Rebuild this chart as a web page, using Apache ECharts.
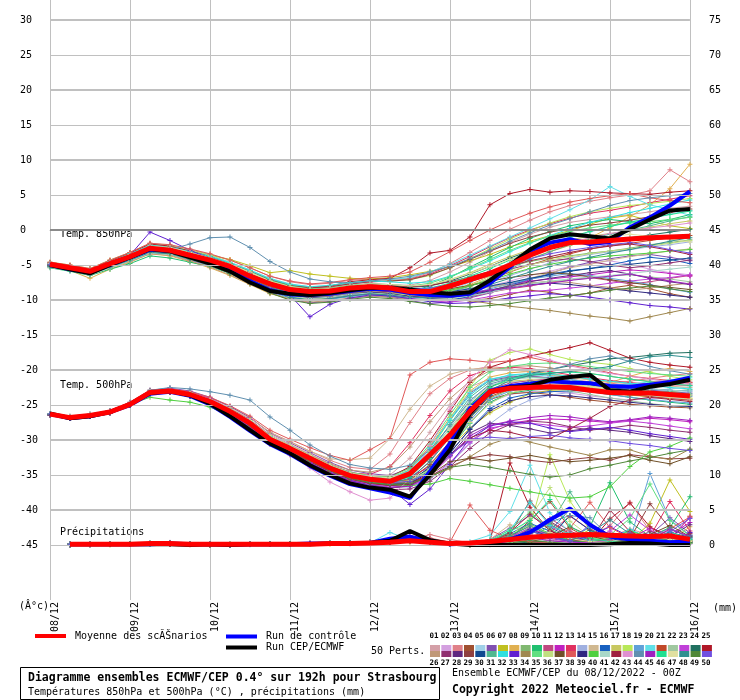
<!DOCTYPE html>
<html><head><meta charset="utf-8">
<script src="https://cdn.jsdelivr.net/npm/echarts@6/dist/echarts.min.js"></script>
<style>html,body{margin:0;padding:0;background:#fff}#c{width:740px;height:700px}</style>
</head><body><div id="c"></div>
<script>
// ---- time axis (hours from 08/12 00Z) and tick labels ----
const hours = [0,6,12,18,24,30,36,42,48,54,60,66,72,78,84,90,96,102,108,114,120,126,132,138,144,150,156,162,168,174,180,186,192];
const precipHours = hours.slice(1);
const dayLabels = ['08/12','09/12','10/12','11/12','12/12','13/12','14/12','15/12','16/12'];
const leftTicks = [-45,-40,-35,-30,-25,-20,-15,-10,-5,0,5,10,15,20,25,30];
const rightTicks = [0,5,10,15,20,25,30,35,40,45,50,55,60,65,70,75];
const gridValues = [30,25,20,15,10,5,0,-5,-10,-15,-20,-25,-30,-35,-40,-45];

// ---- mean / control / main run ----
const meanT850 = [-4.9,-5.4,-5.9,-4.8,-3.8,-2.6,-2.9,-3.6,-4.3,-5.2,-6.6,-7.7,-8.5,-8.8,-8.7,-8.3,-8.1,-8.3,-8.8,-8.8,-8.0,-7.1,-6.2,-5.0,-3.6,-2.5,-1.8,-1.7,-1.5,-1.3,-1.1,-1.0,-0.9];
const ctrlT850 = [-5.0,-5.6,-6.1,-5.0,-3.9,-2.8,-3.0,-3.8,-4.7,-5.8,-7.3,-8.6,-9.2,-9.3,-9.1,-8.7,-8.4,-8.5,-9.0,-9.3,-9.4,-9.1,-7.6,-5.3,-3.0,-1.8,-1.3,-2.0,-1.7,0.4,1.8,3.5,5.5];
const mainT850 = [-5.0,-5.6,-6.2,-5.0,-3.9,-2.7,-3.0,-3.9,-4.8,-5.9,-7.5,-8.7,-9.1,-9.3,-9.0,-8.6,-8.3,-8.3,-8.5,-8.9,-9.1,-8.9,-7.2,-5.0,-2.8,-1.2,-0.6,-0.9,-1.2,0.1,1.5,2.8,3.0];
const meanT500 = [-26.3,-26.8,-26.5,-26.0,-24.9,-23.2,-23.0,-23.5,-24.5,-25.9,-27.6,-29.9,-31.2,-32.6,-34.0,-35.1,-35.6,-35.9,-34.8,-32.1,-29.3,-25.9,-23.1,-22.6,-22.5,-22.4,-22.5,-22.9,-23.2,-23.3,-23.3,-23.5,-23.7];
const ctrlT500 = [-26.3,-26.9,-26.6,-26.0,-25.0,-23.4,-23.1,-23.7,-24.9,-26.7,-28.7,-30.6,-32.0,-33.7,-35.1,-36.3,-36.9,-37.5,-38.3,-34.5,-30.5,-25.5,-23.0,-22.3,-22.0,-21.6,-21.8,-21.9,-22.3,-22.4,-22.1,-21.7,-21.1];
const mainT500 = [-26.2,-26.9,-26.6,-26.0,-24.9,-23.3,-23.0,-23.6,-24.8,-26.6,-28.6,-30.5,-31.9,-33.6,-35.0,-36.2,-36.8,-37.1,-38.1,-35.0,-31.4,-26.2,-23.1,-22.5,-22.3,-21.4,-21.0,-20.7,-22.9,-23.1,-22.4,-22.0,-21.4];
const meanPrecip = [0.1,0.1,0.1,0.1,0.2,0.2,0.1,0.1,0.1,0.1,0.1,0.1,0.1,0.2,0.2,0.3,0.4,0.6,0.4,0.2,0.3,0.5,0.8,1.1,1.3,1.4,1.5,1.4,1.3,1.2,1.3,0.8];
const ctrlPrecip = [0.1,0.1,0.1,0.1,0.1,0.2,0.1,0.1,0.0,0.1,0.1,0.1,0.2,0.2,0.2,0.3,0.9,1.2,0.5,0.1,0.2,0.3,0.8,1.8,3.6,5.2,2.9,1.2,0.8,0.6,0.4,0.5];
const mainPrecip = [0.1,0.1,0.1,0.1,0.1,0.1,0.0,0.1,0.0,0.1,0.1,0.1,0.1,0.2,0.2,0.3,0.6,2.0,0.7,0.2,0.0,0.0,0.0,0.0,0.0,0.0,0.0,0.1,0.3,0.2,0.0,0.0];

// ---- 50 perturbed members ----
const pertT850 = [
[-4.8,-5.3,-5.8,-4.6,-3.5,-2.3,-2.6,-3.3,-4.0,-4.9,-6.0,-7.2,-8.0,-8.4,-8.2,-7.9,-7.6,-7.8,-7.9,-7.2,-6.0,-4.6,-3.1,-1.8,-0.6,0.4,1.1,1.5,1.9,2.2,2.6,3.1,3.4],
[-5.0,-5.5,-6.1,-5.0,-4.0,-2.9,-3.1,-3.9,-4.7,-5.8,-7.0,-8.4,-9.3,-9.8,-9.6,-9.2,-8.9,-9.1,-9.4,-9.5,-9.1,-8.6,-8.0,-7.3,-6.5,-5.9,-5.2,-4.8,-4.4,-4.9,-5.6,-6.1,-6.4],
[-4.6,-5.1,-5.6,-4.4,-3.2,-1.9,-2.2,-2.8,-3.5,-4.3,-5.4,-6.6,-7.4,-7.8,-7.6,-7.2,-7.0,-7.1,-6.9,-6.1,-4.8,-3.2,-1.5,0.1,1.4,2.6,3.5,4.1,4.6,5.0,5.6,8.6,6.9],
[-5.1,-5.6,-6.2,-5.2,-4.2,-3.1,-3.3,-4.0,-4.9,-6.0,-7.3,-8.6,-9.4,-9.7,-9.5,-9.0,-8.7,-8.8,-9.2,-9.6,-9.9,-10.1,-9.8,-9.2,-8.6,-8.9,-9.4,-9.0,-8.3,-7.9,-8.4,-9.1,-9.6],
[-4.9,-5.4,-5.8,-4.7,-3.7,-2.5,-2.7,-3.5,-4.3,-5.3,-6.6,-8.0,-8.9,-9.3,-9.1,-8.6,-8.2,-8.4,-8.9,-9.2,-8.6,-7.5,-6.1,-4.6,-3.2,-2.0,-1.1,-0.3,0.5,1.2,1.6,2.3,2.8],
[-5.2,-5.7,-6.3,-5.3,-4.4,-3.3,-3.5,-4.3,-5.1,-6.1,-7.5,-8.9,-9.9,-10.4,-10.2,-9.8,-9.4,-9.6,-10.1,-10.5,-10.3,-9.7,-9.0,-8.1,-7.1,-6.2,-5.3,-4.6,-4.1,-3.7,-3.5,-3.9,-4.4],
[-4.7,-5.2,-5.6,-4.5,-3.4,-2.2,-2.4,-3.0,-3.6,-4.2,-5.1,-6.1,-5.8,-6.3,-6.6,-6.9,-7.0,-6.8,-6.4,-5.9,-5.3,-4.4,-3.5,-2.4,-1.6,-0.8,-0.1,0.8,1.7,2.1,1.3,0.6,0.2],
[-5.3,-5.8,-6.9,-5.6,-4.6,-3.4,-3.7,-4.5,-5.4,-6.5,-7.8,-9.1,-9.8,-10.0,-9.7,-9.3,-9.1,-9.4,-9.6,-9.3,-8.7,-7.8,-6.6,-5.3,-4.1,-3.1,-2.2,-1.1,0.3,1.9,3.6,5.9,9.4],
[-4.8,-5.3,-5.9,-4.9,-3.9,-2.8,-3.0,-3.7,-4.4,-5.4,-6.7,-7.9,-8.6,-8.9,-8.8,-8.5,-8.2,-8.3,-8.5,-8.4,-7.8,-6.9,-6.0,-5.2,-4.5,-4.0,-3.7,-3.3,-3.0,-2.6,-2.1,-1.8,-1.4],
[-5.4,-5.9,-6.5,-5.6,-4.8,-3.7,-4.0,-4.6,-5.2,-6.2,-7.4,-8.7,-9.5,-9.9,-9.8,-9.5,-9.0,-9.0,-8.8,-8.0,-6.8,-5.3,-3.9,-2.5,-1.2,-0.2,0.6,1.1,1.5,1.2,0.9,1.5,2.2],
[-4.9,-5.5,-6.0,-5.0,-4.1,-3.0,-3.2,-4.0,-4.8,-5.9,-7.1,-8.3,-9.1,-9.5,-9.4,-9.0,-8.8,-9.0,-9.4,-9.8,-10.0,-9.6,-8.9,-8.4,-8.0,-7.5,-7.1,-6.8,-7.2,-7.7,-7.4,-6.9,-6.5],
[-5.0,-5.4,-5.9,-4.8,-3.8,-2.6,-2.8,-3.5,-4.2,-5.1,-6.3,-7.6,-8.4,-8.8,-8.9,-8.7,-8.5,-8.7,-9.0,-9.1,-8.9,-8.5,-8.1,-7.7,-7.3,-7.0,-6.7,-6.4,-6.0,-5.7,-5.9,-6.2,-6.6],
[-4.7,-5.2,-5.7,-4.6,-3.6,-2.4,-2.6,-3.2,-3.9,-4.8,-5.9,-7.1,-7.9,-8.3,-8.1,-7.7,-7.4,-7.3,-7.0,-6.3,-5.1,-3.8,-2.4,-1.1,0.0,0.9,1.7,2.4,2.8,3.3,3.9,4.4,4.9],
[-5.1,-5.6,-6.1,-5.1,-4.1,-3.0,-3.2,-3.9,-4.7,-5.7,-7.0,-8.3,-9.2,-9.6,-9.4,-9.0,-8.7,-8.9,-9.2,-9.4,-9.1,-8.4,-7.5,-6.5,-5.6,-4.7,-4.0,-3.5,-3.1,-2.8,-2.4,-2.1,-1.7],
[-4.8,-5.3,-5.7,-4.6,-3.6,-2.5,-2.8,-3.5,-4.3,-5.3,-6.5,-7.8,-8.7,-9.0,-8.8,-8.5,-8.3,-8.5,-8.8,-9.0,-8.9,-8.6,-8.2,-7.6,-6.9,-6.1,-5.4,-4.9,-4.3,-3.8,-3.4,-3.0,-2.7],
[-5.0,-5.6,-6.2,-5.1,-4.1,-2.9,-3.2,-4.0,-4.9,-6.0,-7.3,-8.6,-9.5,-10.0,-9.8,-9.4,-9.2,-9.5,-9.9,-10.2,-10.0,-9.5,-8.7,-7.9,-7.0,-6.3,-5.8,-5.5,-5.0,-4.4,-3.9,-4.2,-4.8],
[-4.9,-5.3,-5.8,-4.7,-3.7,-2.5,-2.7,-3.4,-4.1,-5.0,-6.2,-7.4,-8.2,-8.6,-8.5,-8.1,-7.8,-7.9,-8.1,-7.9,-7.1,-6.1,-4.9,-3.8,-2.8,-2.0,-1.4,-0.9,-0.5,-0.1,0.4,0.9,1.3],
[-4.6,-5.0,-5.5,-4.3,-3.2,-2.0,-2.2,-2.9,-3.6,-4.6,-5.8,-7.0,-7.8,-8.2,-8.0,-7.6,-7.3,-7.3,-7.1,-6.5,-5.4,-4.1,-2.7,-1.3,-0.1,1.0,1.9,2.6,3.1,3.5,3.8,4.1,4.5],
[-5.2,-5.7,-6.3,-5.3,-4.3,-3.2,-3.4,-4.2,-5.0,-6.1,-7.4,-8.8,-9.7,-10.1,-9.9,-9.5,-9.2,-9.4,-9.7,-9.9,-9.6,-9.1,-8.4,-7.7,-7.0,-6.6,-6.2,-6.5,-6.9,-7.3,-7.8,-8.4,-8.9],
[-4.8,-5.2,-5.7,-4.5,-3.4,-2.1,-2.3,-3.0,-3.7,-4.6,-5.7,-6.9,-7.7,-8.1,-8.0,-7.6,-7.2,-7.1,-6.8,-6.0,-4.9,-3.6,-2.3,-1.0,0.3,1.6,2.9,4.3,6.2,4.8,3.6,2.9,2.1],
[-5.0,-5.5,-6.0,-5.0,-4.0,-2.8,-3.1,-3.8,-4.6,-5.6,-6.9,-8.2,-9.1,-9.5,-9.3,-8.9,-8.6,-8.8,-9.1,-9.2,-8.8,-8.0,-7.1,-6.0,-5.0,-4.1,-3.4,-2.7,-2.2,-1.9,-1.5,-1.1,-0.8],
[-4.9,-5.4,-5.9,-4.8,-3.8,-2.6,-2.9,-3.6,-4.4,-5.4,-6.6,-7.9,-8.8,-9.2,-9.1,-8.7,-8.4,-8.5,-8.7,-8.8,-8.6,-8.3,-8.1,-7.9,-7.6,-7.4,-7.1,-6.9,-6.6,-6.4,-6.7,-7.0,-7.4],
[-5.1,-5.6,-6.1,-5.0,-3.9,-2.7,-3.0,-3.8,-4.7,-5.8,-7.1,-8.5,-9.4,-9.8,-9.7,-9.3,-9.1,-9.3,-9.7,-10.1,-10.3,-10.0,-9.5,-9.0,-8.8,-8.6,-8.3,-8.0,-7.6,-7.3,-7.0,-6.8,-6.4],
[-5.0,-5.5,-6.0,-4.9,-3.9,-2.7,-2.9,-3.6,-4.3,-5.2,-6.4,-7.6,-8.4,-8.8,-8.6,-8.2,-7.9,-8.0,-8.2,-8.0,-7.3,-6.3,-5.2,-4.0,-3.0,-2.4,-2.0,-1.7,-1.4,-1.1,-0.7,-0.3,0.1],
[-4.7,-5.1,-5.6,-4.4,-3.3,-2.0,-2.3,-3.0,-3.8,-4.8,-5.9,-7.1,-7.9,-8.3,-8.0,-7.4,-7.1,-6.9,-5.4,-3.3,-2.9,-1.0,3.6,5.2,5.8,5.4,5.6,5.5,5.3,5.2,5.1,5.4,5.6],
[-5.3,-5.8,-6.4,-5.4,-4.5,-3.4,-3.6,-4.4,-5.3,-6.4,-7.7,-9.0,-9.9,-10.3,-10.1,-9.7,-9.4,-9.6,-9.9,-10.0,-9.7,-9.2,-8.6,-8.0,-7.6,-7.3,-7.5,-7.9,-8.2,-8.6,-8.3,-7.9,-7.6],
[-4.9,-5.4,-5.9,-4.9,-3.9,-2.8,-3.0,-3.7,-4.5,-5.5,-6.8,-8.1,-9.0,-9.4,-9.3,-8.9,-8.6,-8.8,-9.0,-8.8,-8.2,-7.4,-6.5,-5.6,-4.9,-4.4,-4.1,-4.5,-5.0,-5.4,-5.1,-4.7,-4.3],
[-5.1,-5.7,-6.2,-5.2,-4.2,-3.1,-3.3,-4.1,-4.9,-6.0,-7.2,-8.5,-9.4,-9.8,-9.7,-9.3,-9.1,-9.2,-9.4,-9.6,-9.5,-9.1,-8.6,-8.0,-7.4,-6.9,-6.5,-6.1,-5.8,-6.3,-6.9,-7.4,-7.8],
[-4.8,-5.2,-5.7,-4.6,-3.5,-2.3,-2.5,-3.2,-3.9,-4.8,-5.9,-7.1,-7.9,-8.2,-8.1,-7.7,-7.4,-7.3,-7.1,-6.4,-5.4,-4.2,-3.0,-1.9,-1.0,-0.3,0.2,0.7,1.0,1.4,1.9,2.5,3.0],
[-5.0,-5.5,-6.0,-5.0,-4.0,-2.9,-3.1,-3.8,-4.6,-5.6,-6.8,-8.1,-9.0,-9.4,-9.2,-8.8,-8.5,-8.6,-8.9,-9.0,-8.8,-8.4,-8.0,-7.5,-6.9,-6.4,-5.9,-5.5,-5.2,-4.9,-4.6,-4.3,-4.0],
[-4.9,-5.4,-5.8,-4.7,-3.7,-2.5,-2.8,-3.5,-4.3,-5.3,-6.5,-7.8,-8.6,-9.0,-8.8,-8.4,-8.2,-8.4,-8.8,-9.1,-8.8,-8.0,-6.9,-5.6,-4.2,-3.1,-2.1,-1.3,-0.6,0.0,0.6,1.3,1.9],
[-4.7,-5.2,-5.7,-4.5,-3.4,-2.2,-2.5,-3.1,-3.8,-4.7,-5.8,-7.0,-7.8,-8.1,-7.9,-7.5,-7.3,-7.4,-7.6,-7.4,-6.6,-5.6,-4.4,-3.1,-1.9,-0.8,0.2,1.1,1.8,2.5,3.1,3.7,4.3],
[-5.1,-5.6,-6.2,-5.1,-3.6,-0.3,-1.5,-2.9,-4.1,-5.4,-6.8,-8.2,-9.3,-12.4,-10.6,-9.7,-9.3,-9.4,-9.8,-10.2,-10.5,-10.4,-10.1,-9.7,-9.4,-9.1,-9.3,-9.6,-10.0,-10.4,-10.8,-11.0,-11.3],
[-5.0,-5.5,-6.1,-5.1,-4.1,-3.0,-3.2,-3.9,-4.7,-5.8,-7.0,-8.3,-9.2,-9.6,-9.4,-9.0,-8.8,-9.0,-9.3,-9.6,-9.8,-10.1,-10.5,-10.9,-11.2,-11.5,-11.9,-12.3,-12.6,-13.0,-12.4,-11.8,-11.2],
[-4.8,-5.3,-5.8,-4.7,-3.6,-2.4,-2.6,-3.3,-4.0,-4.9,-6.0,-7.2,-8.0,-8.4,-8.3,-7.9,-7.7,-7.8,-8.0,-7.6,-6.7,-5.5,-4.2,-2.9,-1.8,-0.9,-0.2,0.3,0.7,1.0,1.2,1.5,1.8],
[-5.2,-5.7,-6.2,-5.2,-4.2,-3.1,-3.4,-4.1,-4.9,-6.0,-7.3,-8.6,-9.5,-9.9,-9.7,-9.3,-9.0,-9.1,-9.3,-9.2,-8.7,-7.9,-6.9,-5.9,-5.0,-4.3,-3.8,-3.4,-3.0,-2.7,-2.3,-1.9,-1.5],
[-4.9,-5.4,-5.9,-4.8,-3.8,-2.7,-2.9,-3.6,-4.4,-5.4,-6.6,-7.9,-8.7,-9.1,-9.0,-8.6,-8.3,-8.4,-8.6,-8.7,-8.4,-7.9,-7.3,-6.8,-6.4,-6.1,-6.3,-6.7,-7.1,-7.5,-7.9,-8.2,-8.5],
[-4.6,-5.0,-5.5,-4.3,-3.2,-1.9,-2.1,-2.7,-3.4,-4.3,-5.4,-6.6,-7.3,-7.7,-7.5,-7.1,-6.8,-6.6,-6.0,-4.6,-3.1,-1.5,0.0,1.3,2.4,3.3,4.0,4.5,4.9,5.2,4.6,4.2,3.9],
[-5.1,-5.6,-6.1,-5.1,-4.1,-3.0,-3.3,-4.0,-4.8,-5.9,-7.1,-8.4,-9.3,-9.7,-9.6,-9.2,-8.9,-9.1,-9.5,-9.8,-9.7,-9.3,-8.7,-8.2,-7.8,-7.6,-7.8,-8.1,-8.4,-8.7,-9.0,-9.3,-9.6],
[-5.0,-5.5,-6.0,-4.9,-3.9,-2.8,-3.0,-3.7,-4.5,-5.5,-6.8,-8.1,-9.0,-9.3,-9.2,-8.8,-8.5,-8.6,-8.8,-8.9,-8.6,-8.0,-7.2,-6.3,-5.5,-4.9,-4.4,-4.0,-3.7,-3.5,-3.3,-3.0,-2.8],
[-5.3,-5.8,-6.4,-5.4,-4.4,-3.3,-3.5,-4.2,-5.0,-6.0,-7.2,-8.5,-9.4,-9.8,-9.6,-9.2,-9.0,-9.2,-9.6,-9.9,-9.8,-9.4,-8.9,-8.3,-7.7,-7.3,-7.0,-6.7,-6.5,-6.2,-5.9,-5.6,-5.3],
[-4.8,-5.3,-5.8,-4.7,-3.6,-2.4,-2.6,-3.3,-4.1,-5.1,-6.3,-7.5,-8.3,-8.7,-8.5,-8.1,-7.8,-7.9,-8.1,-7.9,-7.4,-6.7,-5.9,-5.1,-4.4,-3.8,-3.2,-2.7,-2.3,-2.0,-2.4,-2.9,-3.5],
[-4.9,-5.4,-5.9,-4.8,-3.8,-2.6,-2.9,-3.6,-4.4,-5.4,-6.6,-7.9,-8.8,-9.2,-9.0,-8.6,-8.3,-8.5,-8.7,-8.6,-8.0,-7.1,-6.0,-4.8,-3.6,-2.6,-1.8,-1.1,-0.5,-0.1,0.3,0.6,1.0],
[-5.1,-5.6,-6.1,-5.0,-4.0,-2.9,-2.8,-2.0,-1.1,-1.0,-2.5,-4.5,-6.0,-7.0,-7.4,-7.6,-7.3,-7.0,-6.6,-6.0,-5.2,-4.1,-2.9,-1.6,-0.4,0.7,1.6,2.6,3.5,4.2,4.6,4.9,5.2],
[-5.0,-5.5,-6.0,-5.0,-3.9,-2.7,-2.9,-3.6,-4.4,-5.4,-6.7,-8.0,-8.9,-9.3,-9.2,-8.8,-8.5,-8.7,-9.0,-9.2,-9.1,-8.9,-8.6,-8.3,-7.9,-7.6,-7.2,-6.9,-6.6,-6.3,-6.8,-7.3,-7.7],
[-4.9,-5.4,-5.9,-4.8,-3.8,-2.6,-2.8,-3.5,-4.3,-5.3,-6.5,-7.8,-8.6,-9.0,-8.8,-8.5,-8.2,-8.3,-8.5,-8.3,-7.6,-6.6,-5.5,-4.3,-3.1,-2.0,-1.0,-0.2,0.5,1.1,1.7,2.2,2.7],
[-4.8,-5.2,-5.7,-4.6,-3.5,-2.3,-2.5,-3.2,-4.0,-4.9,-6.0,-7.3,-8.1,-8.5,-8.4,-8.0,-7.7,-7.8,-8.0,-7.8,-7.1,-6.2,-5.2,-4.2,-3.3,-2.6,-2.0,-1.5,-1.0,-0.6,-0.9,-1.3,-1.7],
[-5.2,-5.7,-6.3,-5.3,-4.3,-3.2,-3.4,-4.2,-5.0,-6.1,-7.4,-8.7,-9.6,-10.0,-9.8,-9.4,-9.1,-9.3,-9.6,-9.7,-9.3,-8.6,-7.8,-6.9,-6.0,-5.2,-4.5,-3.9,-3.3,-2.8,-2.2,-1.6,-1.1],
[-5.0,-5.5,-6.0,-5.0,-4.1,-3.0,-3.3,-4.1,-5.0,-6.2,-7.6,-9.0,-10.0,-10.5,-10.3,-9.9,-9.6,-9.8,-10.2,-10.6,-10.9,-11.0,-10.8,-10.5,-10.1,-9.7,-9.4,-9.0,-8.6,-8.3,-8.0,-8.4,-8.8],
[-4.9,-5.3,-5.8,-4.7,-3.7,-2.5,-2.7,-3.4,-4.2,-5.2,-6.4,-7.7,-8.5,-8.9,-8.7,-8.4,-8.1,-8.2,-8.4,-8.3,-7.8,-7.0,-6.0,-5.0,-4.1,-3.4,-2.9,-2.5,-2.1,-1.8,-2.2,-2.8,-3.3]
];
const pertT500 = [
[-26.2,-26.7,-26.4,-25.9,-24.8,-23.1,-22.9,-23.3,-24.2,-25.5,-27.1,-29.2,-30.6,-32.0,-33.4,-34.6,-35.1,-35.0,-32.6,-28.9,-25.0,-22.4,-21.3,-20.9,-20.8,-21.2,-21.6,-22.0,-22.3,-22.5,-22.2,-21.9,-21.6],
[-26.4,-26.9,-26.6,-26.1,-25.0,-23.4,-23.2,-23.8,-24.9,-26.4,-28.2,-30.5,-31.9,-33.3,-34.7,-35.8,-36.3,-36.6,-36.2,-34.4,-31.2,-27.4,-24.6,-23.5,-23.1,-23.0,-23.3,-23.7,-24.0,-24.3,-24.1,-23.8,-23.5],
[-26.3,-26.8,-26.5,-26.0,-24.9,-23.2,-22.8,-23.2,-24.0,-25.2,-26.8,-28.9,-30.2,-31.6,-32.9,-33.9,-34.2,-32.0,-27.5,-23.4,-21.2,-20.0,-19.5,-19.8,-20.3,-20.8,-21.3,-21.7,-22.0,-21.6,-21.2,-20.8,-20.5],
[-26.2,-26.8,-26.4,-25.9,-24.9,-23.3,-23.1,-23.6,-24.7,-26.2,-28.0,-30.3,-31.7,-33.1,-34.5,-35.6,-36.2,-36.5,-36.0,-33.9,-30.6,-26.8,-24.2,-23.4,-23.2,-23.5,-23.9,-24.3,-24.6,-24.9,-25.1,-25.3,-25.4],
[-26.4,-26.9,-26.6,-26.1,-25.0,-23.3,-23.0,-23.4,-24.4,-25.8,-27.4,-29.7,-31.0,-32.4,-33.8,-34.9,-35.4,-35.6,-34.5,-31.5,-27.9,-24.3,-22.2,-21.7,-21.6,-21.8,-22.2,-22.6,-23.0,-23.2,-23.0,-22.7,-22.4],
[-26.3,-26.7,-26.4,-25.9,-24.7,-22.9,-22.6,-23.0,-23.9,-25.2,-26.8,-29.0,-30.4,-31.8,-33.2,-34.3,-34.8,-35.1,-34.0,-31.0,-27.2,-23.3,-21.5,-21.0,-20.9,-21.1,-21.4,-21.9,-22.3,-22.6,-22.9,-23.1,-23.3],
[-26.4,-26.8,-26.5,-26.0,-24.9,-23.2,-23.0,-23.5,-24.6,-26.0,-27.8,-30.1,-31.5,-33.0,-34.4,-35.4,-36.0,-36.3,-35.9,-34.0,-31.1,-28.3,-26.1,-24.6,-23.4,-22.9,-22.8,-23.0,-23.3,-23.6,-23.8,-24.0,-24.1],
[-26.2,-26.7,-26.4,-25.9,-24.8,-23.1,-22.8,-23.3,-24.3,-25.6,-27.3,-29.5,-30.9,-32.3,-33.7,-34.8,-35.3,-35.5,-34.2,-30.9,-26.8,-23.0,-21.0,-20.4,-20.2,-20.5,-20.9,-21.4,-21.8,-20.9,-20.1,-19.8,-20.2],
[-26.3,-26.8,-26.5,-26.0,-24.9,-23.3,-23.1,-23.6,-24.6,-26.0,-27.7,-30.0,-31.4,-32.8,-34.2,-35.3,-35.9,-36.2,-35.7,-33.6,-30.4,-26.9,-24.0,-22.8,-22.3,-22.2,-22.4,-22.9,-23.3,-23.6,-23.4,-23.1,-22.8],
[-26.4,-26.9,-26.6,-26.1,-25.0,-23.4,-23.2,-23.7,-24.7,-26.1,-27.8,-30.1,-31.5,-32.9,-34.3,-35.5,-36.1,-36.4,-36.1,-34.3,-31.3,-27.6,-24.6,-23.3,-22.9,-22.7,-22.8,-23.1,-23.5,-23.9,-24.3,-24.6,-24.9],
[-26.3,-26.8,-26.5,-26.0,-24.8,-23.1,-22.9,-23.4,-24.4,-25.8,-27.5,-29.8,-31.2,-32.6,-34.0,-35.2,-35.8,-36.1,-35.6,-33.0,-29.2,-25.4,-22.7,-21.9,-21.5,-21.3,-21.6,-22.0,-22.4,-22.8,-22.5,-22.1,-21.8],
[-26.2,-26.7,-26.4,-25.8,-24.7,-23.0,-22.7,-23.1,-24.1,-25.5,-27.1,-29.4,-30.8,-32.2,-33.6,-34.6,-35.2,-35.5,-35.2,-33.9,-32.0,-30.1,-28.5,-27.6,-27.2,-27.0,-27.1,-27.3,-27.5,-27.2,-26.9,-27.1,-27.4],
[-26.4,-26.9,-26.6,-26.1,-25.0,-23.3,-23.0,-23.5,-24.5,-25.9,-27.5,-29.7,-31.1,-32.5,-33.8,-34.7,-34.9,-33.8,-30.4,-26.5,-23.0,-20.8,-19.9,-19.6,-19.8,-20.2,-20.7,-21.1,-21.5,-21.8,-22.0,-22.1,-22.2],
[-26.3,-26.8,-26.5,-26.0,-24.9,-23.2,-23.0,-23.5,-24.6,-26.1,-27.9,-30.2,-31.7,-33.1,-34.6,-35.7,-36.4,-36.8,-36.7,-35.6,-33.4,-30.5,-27.7,-25.6,-24.3,-23.6,-23.2,-23.0,-23.1,-23.4,-23.7,-24.0,-24.2],
[-26.3,-26.7,-26.4,-25.9,-24.8,-23.1,-22.8,-23.2,-24.2,-25.4,-26.9,-28.9,-30.3,-31.6,-32.7,-32.8,-32.6,-29.8,-25.6,-22.3,-20.6,-19.9,-19.7,-19.9,-20.3,-20.7,-21.1,-21.4,-21.7,-22.0,-22.2,-22.3,-22.5],
[-26.4,-26.9,-26.6,-26.1,-25.0,-23.4,-23.2,-23.7,-24.8,-26.3,-28.1,-30.4,-31.8,-33.3,-34.7,-35.8,-36.4,-36.8,-36.5,-34.8,-31.9,-28.4,-25.5,-24.0,-23.4,-23.1,-23.0,-22.8,-22.6,-22.5,-22.7,-22.9,-23.0],
[-26.2,-26.7,-26.4,-25.9,-24.8,-23.1,-22.9,-23.3,-24.3,-25.7,-27.3,-29.6,-31.0,-32.4,-33.8,-34.9,-35.4,-35.7,-35.0,-32.3,-28.7,-24.9,-22.3,-21.6,-21.4,-21.6,-22.0,-22.5,-22.9,-23.3,-23.6,-23.8,-24.0],
[-26.3,-26.8,-26.5,-26.0,-24.9,-23.2,-23.0,-23.5,-24.5,-25.9,-27.6,-29.9,-31.3,-32.7,-34.1,-35.2,-35.7,-35.9,-34.9,-31.6,-27.1,-22.4,-18.6,-17.5,-17.0,-17.8,-18.5,-18.9,-19.2,-19.8,-20.3,-20.9,-21.4],
[-26.4,-26.8,-26.5,-26.0,-24.9,-23.3,-23.1,-23.6,-24.6,-26.0,-27.7,-30.0,-31.4,-32.8,-34.3,-35.4,-36.0,-36.3,-36.0,-34.1,-31.0,-27.2,-24.2,-23.0,-22.6,-22.5,-22.7,-23.1,-23.5,-23.9,-24.2,-24.5,-24.7],
[-26.3,-26.8,-26.5,-25.9,-24.8,-23.1,-22.8,-23.3,-24.3,-25.7,-27.4,-29.7,-31.1,-32.5,-33.9,-35.0,-35.5,-35.8,-34.6,-31.2,-27.0,-23.2,-21.3,-20.8,-20.6,-20.9,-21.3,-21.8,-22.2,-22.0,-21.7,-21.4,-21.1],
[-26.3,-26.8,-26.5,-26.0,-24.9,-23.2,-23.0,-23.5,-24.5,-25.9,-27.6,-29.9,-31.3,-32.7,-34.1,-35.2,-35.8,-36.1,-35.7,-33.5,-30.2,-26.6,-23.8,-22.7,-22.3,-22.2,-22.4,-22.8,-23.2,-23.5,-23.8,-24.1,-24.3],
[-26.2,-26.7,-26.4,-25.9,-24.8,-23.1,-22.9,-23.4,-24.4,-25.7,-27.3,-29.5,-30.9,-32.3,-33.6,-34.7,-35.2,-35.4,-34.4,-31.7,-28.3,-25.0,-23.0,-22.4,-22.3,-22.6,-23.0,-23.5,-24.0,-24.4,-24.8,-25.1,-25.3],
[-26.4,-26.9,-26.6,-26.1,-25.0,-23.3,-23.1,-23.6,-24.7,-26.2,-28.0,-30.3,-31.8,-33.2,-34.6,-35.7,-36.3,-36.7,-36.6,-35.4,-33.2,-30.4,-28.3,-27.8,-27.6,-27.9,-28.2,-28.0,-27.6,-27.3,-27.6,-28.0,-28.4],
[-26.3,-26.8,-26.5,-26.0,-24.9,-23.2,-23.0,-23.5,-24.5,-25.9,-27.6,-29.9,-31.3,-32.7,-34.1,-35.2,-35.7,-36.0,-35.2,-32.5,-28.8,-25.0,-22.4,-21.2,-20.5,-19.9,-19.4,-18.9,-18.4,-18.2,-17.9,-17.6,-17.5],
[-26.3,-26.8,-26.5,-26.0,-24.9,-23.2,-23.0,-23.4,-24.3,-25.6,-27.2,-29.4,-30.8,-32.2,-33.6,-34.7,-35.2,-35.3,-33.8,-30.1,-25.9,-21.8,-19.6,-18.7,-18.0,-17.4,-16.8,-16.1,-17.2,-18.3,-18.9,-19.3,-19.6],
[-26.3,-26.8,-26.5,-26.0,-24.8,-23.1,-22.9,-23.4,-24.3,-25.6,-27.2,-29.4,-30.8,-32.1,-33.4,-34.3,-34.6,-33.9,-31.0,-27.4,-24.1,-21.6,-20.1,-19.5,-19.4,-19.7,-20.1,-20.5,-20.9,-21.3,-21.6,-21.8,-22.0],
[-26.4,-26.9,-26.6,-26.1,-25.0,-23.4,-23.2,-23.8,-24.9,-26.4,-28.3,-30.6,-32.1,-33.6,-35.0,-36.1,-36.7,-37.1,-37.0,-35.9,-33.8,-31.2,-29.0,-27.8,-27.3,-27.5,-28.1,-28.6,-28.3,-27.9,-28.2,-28.6,-28.9],
[-26.3,-26.8,-26.5,-26.0,-24.9,-23.3,-23.1,-23.6,-24.6,-26.1,-27.9,-30.2,-31.6,-33.0,-34.4,-35.5,-36.1,-36.5,-36.4,-34.9,-32.2,-29.0,-27.6,-27.9,-28.4,-29.0,-28.7,-28.3,-28.6,-28.9,-29.4,-29.8,-30.2],
[-26.2,-26.7,-26.4,-25.9,-24.8,-23.2,-23.0,-23.5,-24.5,-25.9,-27.6,-29.9,-31.3,-32.8,-34.2,-35.3,-35.9,-36.2,-36.0,-35.1,-33.8,-32.6,-32.1,-32.4,-32.9,-33.2,-32.8,-32.5,-32.9,-32.1,-32.4,-32.7,-32.6],
[-26.4,-26.9,-26.6,-26.1,-25.0,-23.3,-23.1,-23.6,-24.6,-26.1,-27.8,-30.1,-31.5,-32.9,-34.3,-35.4,-36.0,-36.3,-35.9,-33.9,-30.7,-26.8,-23.6,-22.2,-21.7,-21.5,-21.7,-22.1,-22.5,-22.9,-23.2,-23.5,-23.7],
[-26.3,-26.8,-26.5,-26.0,-24.9,-23.2,-23.0,-23.5,-24.5,-25.9,-27.6,-29.8,-31.2,-32.6,-34.0,-35.1,-35.6,-35.8,-34.8,-31.8,-27.8,-23.9,-21.7,-21.1,-21.0,-21.2,-21.5,-21.9,-22.3,-22.7,-23.0,-23.2,-23.4],
[-26.2,-26.7,-26.4,-25.9,-24.8,-23.1,-22.8,-23.3,-24.3,-25.6,-27.3,-29.5,-30.9,-32.3,-33.7,-34.8,-35.3,-35.5,-34.3,-31.1,-27.2,-23.6,-21.4,-20.7,-20.5,-20.6,-20.9,-21.3,-21.6,-21.9,-22.2,-22.5,-22.7],
[-26.4,-26.9,-26.6,-26.1,-25.0,-23.4,-23.2,-23.7,-24.8,-26.3,-28.1,-30.4,-31.9,-33.3,-34.7,-35.8,-36.5,-36.9,-39.2,-37.0,-33.5,-29.8,-28.0,-27.4,-27.6,-28.3,-28.8,-28.5,-28.2,-28.6,-29.1,-29.5,-29.9],
[-26.3,-26.8,-26.5,-26.0,-24.9,-23.2,-23.0,-23.5,-24.6,-26.0,-27.7,-30.0,-31.4,-32.8,-34.2,-35.3,-35.9,-36.2,-36.0,-35.2,-34.1,-32.4,-30.6,-29.7,-30.3,-31.0,-31.6,-32.2,-31.4,-31.4,-32.3,-32.8,-31.3],
[-26.2,-26.7,-26.4,-25.9,-24.8,-23.1,-22.9,-23.3,-24.3,-25.6,-27.2,-29.4,-30.8,-32.2,-33.6,-34.6,-35.1,-35.3,-34.0,-30.6,-26.4,-22.5,-20.3,-19.5,-19.1,-19.0,-19.2,-19.5,-19.9,-20.2,-20.5,-20.7,-20.9],
[-26.3,-26.8,-26.5,-26.0,-24.9,-23.2,-23.0,-23.5,-24.5,-25.9,-27.6,-29.9,-31.3,-32.7,-34.1,-35.2,-35.8,-36.1,-35.8,-34.2,-31.1,-27.5,-24.8,-23.3,-22.6,-22.2,-22.1,-22.3,-22.6,-23.0,-23.3,-23.5,-23.6],
[-26.4,-26.9,-26.6,-26.1,-25.0,-23.4,-23.2,-23.7,-24.8,-26.3,-28.2,-30.5,-32.0,-33.5,-34.9,-36.0,-36.6,-36.9,-36.5,-35.0,-33.1,-32.6,-33.0,-32.6,-32.2,-32.7,-33.1,-32.9,-32.6,-32.2,-32.9,-33.4,-32.4],
[-26.2,-26.6,-26.3,-25.8,-24.6,-22.9,-22.7,-23.1,-23.9,-25.1,-26.6,-28.6,-29.9,-31.1,-32.2,-32.9,-31.4,-29.8,-20.7,-18.9,-18.4,-18.6,-18.9,-18.7,-18.2,-18.8,-19.3,-19.8,-20.4,-20.9,-21.2,-21.5,-21.8],
[-26.3,-26.8,-26.5,-26.0,-24.9,-23.3,-23.1,-23.6,-24.6,-26.0,-27.7,-30.0,-31.4,-32.8,-34.2,-35.4,-36.0,-36.4,-36.2,-34.6,-31.8,-28.5,-25.8,-24.4,-23.8,-23.6,-23.7,-24.0,-24.3,-24.6,-24.9,-25.1,-25.2],
[-26.3,-26.8,-26.5,-26.0,-24.9,-23.9,-24.3,-24.6,-25.3,-26.5,-28.0,-30.1,-31.5,-32.9,-34.3,-35.4,-36.0,-36.4,-36.5,-36.3,-35.5,-35.9,-36.4,-36.9,-37.4,-37.9,-38.3,-38.1,-36.7,-33.8,-31.7,-30.9,-29.7],
[-26.2,-26.7,-26.4,-25.9,-24.8,-23.1,-22.9,-23.4,-24.4,-25.7,-27.4,-29.6,-31.0,-32.4,-33.8,-34.9,-35.4,-35.6,-34.7,-31.9,-28.3,-24.6,-22.2,-21.4,-21.1,-21.2,-21.5,-21.9,-22.2,-22.5,-22.7,-22.9,-23.0],
[-26.4,-26.8,-26.5,-26.0,-24.9,-23.3,-23.1,-23.6,-24.7,-26.2,-28.0,-30.3,-31.7,-33.1,-34.5,-35.6,-36.2,-36.5,-36.3,-34.8,-32.2,-29.7,-28.6,-28.9,-29.6,-29.8,-28.4,-26.9,-25.2,-24.3,-23.9,-24.2,-24.5],
[-26.3,-26.8,-26.5,-26.0,-24.9,-23.2,-23.0,-23.5,-24.5,-25.9,-27.6,-30.2,-32.1,-34.0,-36.0,-37.4,-38.6,-38.3,-35.5,-30.8,-25.6,-21.3,-18.9,-17.1,-17.8,-18.6,-19.4,-20.0,-20.5,-20.9,-21.3,-21.7,-22.0],
[-26.2,-26.6,-26.3,-25.8,-24.6,-22.9,-22.5,-22.7,-23.1,-23.6,-24.3,-26.7,-28.6,-30.7,-32.3,-33.5,-34.0,-34.2,-33.6,-31.4,-28.0,-24.4,-22.0,-21.2,-20.6,-20.0,-19.2,-18.4,-18.0,-18.8,-19.5,-20.1,-20.6],
[-26.4,-26.9,-26.6,-26.1,-25.0,-23.4,-23.2,-23.7,-24.8,-26.3,-28.1,-30.4,-31.9,-33.4,-34.8,-35.9,-36.5,-36.8,-36.6,-35.1,-32.4,-29.4,-27.9,-27.3,-26.8,-26.5,-26.7,-27.1,-27.4,-27.1,-26.7,-26.9,-27.2],
[-26.3,-26.8,-26.5,-26.0,-24.9,-23.2,-23.0,-23.5,-24.5,-25.9,-27.6,-29.9,-31.3,-32.7,-34.1,-35.2,-35.7,-36.0,-35.3,-32.6,-28.9,-25.1,-22.5,-21.3,-20.7,-20.4,-20.3,-20.5,-20.9,-21.3,-21.7,-22.0,-22.2],
[-26.2,-26.7,-26.4,-25.9,-24.8,-23.1,-22.9,-23.4,-24.3,-25.6,-27.2,-29.4,-30.8,-32.2,-33.6,-34.7,-35.2,-35.4,-34.6,-32.0,-28.6,-25.3,-23.1,-22.2,-21.9,-21.8,-22.0,-22.4,-22.8,-23.2,-23.6,-23.9,-24.1],
[-26.3,-26.8,-26.5,-26.0,-24.9,-23.2,-23.0,-23.5,-24.5,-25.9,-27.6,-29.9,-31.3,-32.7,-34.1,-35.2,-35.8,-36.1,-35.5,-33.1,-29.6,-25.8,-22.9,-21.5,-20.8,-20.5,-20.2,-19.9,-19.5,-18.7,-18.1,-17.9,-18.2],
[-26.4,-26.9,-26.6,-26.1,-25.0,-23.3,-23.1,-23.6,-24.6,-26.1,-27.9,-30.2,-31.6,-33.0,-34.4,-35.5,-36.1,-36.4,-36.2,-35.3,-33.9,-33.5,-33.9,-34.4,-34.9,-35.3,-35.0,-34.1,-33.6,-33.0,-32.5,-31.9,-31.4],
[-26.3,-26.8,-26.5,-26.0,-24.9,-23.2,-23.0,-23.5,-24.5,-25.9,-27.6,-29.9,-31.3,-32.7,-34.1,-35.2,-35.8,-36.1,-35.9,-34.6,-32.2,-29.9,-29.6,-29.8,-29.5,-29.3,-29.7,-29.9,-30.1,-30.5,-30.8,-31.2,-31.5]
];
const pertPrecip = [
[0.1,0.1,0.1,0.2,0.3,0.2,0.1,0.1,0.0,0.1,0.1,0.2,0.2,0.3,0.3,0.4,0.6,0.8,0.4,0.1,0.0,0.3,1.2,2.8,1.5,0.6,0.4,1.1,2.3,1.4,0.8,0.5],
[0.1,0.1,0.2,0.1,0.1,0.4,0.1,0.0,0.0,0.1,0.1,0.1,0.2,0.2,0.1,0.3,0.5,1.1,0.6,0.2,0.1,0.0,0.2,0.5,0.3,0.1,0.8,1.9,0.9,0.3,0.2,0.1],
[0.0,0.1,0.1,0.1,0.2,0.1,0.0,0.0,0.1,0.1,0.1,0.2,0.1,0.2,0.3,0.2,0.4,0.6,1.5,0.8,0.3,0.6,1.8,0.9,0.4,0.2,1.3,2.7,6.1,2.0,0.9,0.4],
[0.1,0.0,0.1,0.2,0.1,0.1,0.1,0.0,0.0,0.1,0.2,0.2,0.3,0.2,0.2,0.3,0.4,0.5,0.3,0.2,0.1,0.3,0.9,3.5,6.2,2.4,0.9,0.3,0.2,0.8,1.6,0.7],
[0.1,0.1,0.1,0.1,0.2,0.2,0.1,0.1,0.0,0.0,0.1,0.1,0.1,0.2,0.2,0.3,0.5,0.7,0.5,0.2,0.1,0.1,0.4,1.0,2.1,1.2,0.6,0.3,0.9,1.8,1.0,0.4],
[0.0,0.1,0.1,0.2,0.2,0.3,0.1,0.0,0.1,0.1,0.1,0.2,0.2,0.3,0.2,0.4,0.7,1.3,0.9,0.3,0.2,0.8,2.4,4.2,2.6,1.0,0.5,0.3,0.6,1.4,3.9,1.7],
[0.1,0.1,0.0,0.1,0.1,0.2,0.1,0.1,0.0,0.1,0.1,0.1,0.2,0.1,0.2,0.2,0.3,0.4,0.3,0.1,0.0,0.2,0.6,0.4,0.2,0.7,2.2,1.1,0.5,3.1,9.3,4.8],
[0.1,0.1,0.1,0.1,0.2,0.2,0.1,0.0,0.0,0.1,0.1,0.2,0.2,0.2,0.3,0.3,0.5,0.9,0.6,0.2,0.1,0.4,1.5,0.8,0.3,0.2,0.5,1.2,0.7,0.4,0.6,2.6],
[0.1,0.1,0.1,0.2,0.3,0.3,0.1,0.1,0.0,0.1,0.1,0.1,0.2,0.2,0.2,0.3,0.4,0.6,0.4,0.2,0.1,0.2,0.7,1.6,3.2,1.5,0.7,0.4,0.3,0.5,0.9,0.6],
[0.0,0.1,0.1,0.1,0.1,0.2,0.1,0.0,0.1,0.1,0.2,0.2,0.2,0.3,0.3,0.4,0.6,0.8,0.5,0.2,0.1,0.3,1.1,2.3,1.4,0.8,2.6,8.9,3.3,1.2,2.5,6.9],
[0.1,0.1,0.1,0.1,0.2,0.1,0.1,0.1,0.0,0.1,0.1,0.2,0.3,0.2,0.2,0.3,0.5,0.7,0.4,0.1,0.1,0.2,0.5,1.9,3.8,2.0,0.8,0.4,0.3,0.6,1.3,0.8],
[0.1,0.1,0.2,0.2,0.2,0.3,0.1,0.0,0.0,0.1,0.1,0.1,0.2,0.2,0.3,0.3,0.5,0.6,0.5,0.3,0.2,0.5,1.3,2.1,1.6,1.0,0.6,0.4,0.9,2.4,1.5,3.2],
[0.0,0.1,0.1,0.1,0.1,0.2,0.1,0.1,0.0,0.1,0.1,0.2,0.2,0.2,0.2,0.3,0.4,0.6,0.3,0.1,0.0,0.3,0.9,0.6,1.8,4.1,2.2,0.9,0.5,1.2,6.2,2.0],
[0.1,0.1,0.1,0.2,0.2,0.2,0.1,0.0,0.1,0.1,0.1,0.1,0.2,0.3,0.2,0.3,0.5,0.8,0.5,0.2,0.1,0.2,0.6,1.3,0.8,0.5,0.4,1.0,2.1,1.1,0.6,0.4],
[0.1,0.0,0.1,0.1,0.2,0.2,0.1,0.1,0.0,0.1,0.2,0.2,0.2,0.2,0.3,0.4,0.6,0.9,0.6,0.3,0.2,0.8,2.9,1.4,0.6,0.3,0.2,0.5,1.1,0.7,0.4,0.3],
[0.1,0.1,0.1,0.1,0.2,0.2,0.1,0.0,0.0,0.1,0.1,0.2,0.2,0.2,0.2,0.3,0.5,0.7,0.4,0.2,0.1,0.4,1.6,3.1,2.0,5.1,2.8,1.0,0.6,0.9,1.8,1.1],
[0.0,0.1,0.1,0.2,0.2,0.3,0.1,0.1,0.0,0.1,0.1,0.1,0.2,0.2,0.3,0.3,0.4,0.6,0.4,0.2,0.1,0.1,0.4,0.9,0.5,0.3,0.2,0.6,1.3,0.8,0.5,0.7],
[0.1,0.1,0.1,0.1,0.1,0.2,0.1,0.0,0.1,0.1,0.1,0.2,0.2,0.3,0.2,0.3,0.5,0.8,0.5,0.2,0.1,0.2,0.8,2.6,12.9,6.3,2.1,0.8,0.4,0.6,0.9,0.5],
[0.1,0.1,0.1,0.2,0.3,0.2,0.1,0.1,0.0,0.1,0.2,0.2,0.2,0.2,0.3,0.4,0.6,1.0,0.6,0.3,0.1,0.3,1.0,0.6,0.4,1.1,2.5,1.3,0.7,10.2,3.6,1.4],
[0.0,0.1,0.1,0.1,0.2,0.2,0.1,0.0,0.0,0.1,0.1,0.2,0.2,0.2,0.2,0.3,1.8,0.7,0.6,0.2,0.5,1.4,4.8,11.4,4.6,1.8,0.7,0.4,0.3,0.8,1.5,0.6],
[0.1,0.1,0.1,0.1,0.2,0.2,0.1,0.1,0.0,0.1,0.1,0.2,0.2,0.2,0.3,0.3,0.5,0.7,0.4,0.2,0.1,0.3,0.9,0.5,0.3,0.9,1.7,0.8,0.5,1.2,0.7,4.1],
[0.0,0.1,0.1,0.2,0.2,0.2,0.1,0.0,0.1,0.1,0.1,0.1,0.2,0.2,0.2,0.3,0.4,0.6,0.3,0.1,0.0,0.1,0.3,0.7,1.4,0.8,0.4,0.3,0.2,0.5,1.0,0.6],
[0.1,0.1,0.1,0.1,0.1,0.2,0.1,0.1,0.0,0.1,0.2,0.2,0.3,0.3,0.2,0.4,0.6,0.9,0.5,0.2,0.1,0.4,1.2,2.4,1.3,0.7,0.4,2.0,4.3,2.1,0.9,3.9],
[0.1,0.1,0.2,0.2,0.3,0.2,0.1,0.0,0.0,0.1,0.1,0.2,0.2,0.2,0.3,0.3,0.5,0.8,0.5,0.2,0.1,0.2,0.5,0.3,0.2,0.4,0.9,0.5,0.3,0.2,0.4,0.3],
[0.0,0.1,0.1,0.1,0.2,0.1,0.1,0.1,0.0,0.1,0.1,0.1,0.2,0.2,0.2,0.3,0.5,0.7,0.4,0.2,0.1,0.6,11.7,5.4,2.0,0.8,0.4,3.7,6.0,2.6,1.0,0.5],
[0.1,0.1,0.1,0.2,0.2,0.3,0.1,0.0,0.1,0.1,0.1,0.2,0.2,0.3,0.2,0.4,0.6,1.0,0.6,0.3,0.2,0.5,1.4,0.8,0.4,0.3,0.6,1.5,0.9,0.5,0.3,0.6],
[0.1,0.1,0.1,0.1,0.2,0.2,0.1,0.1,0.0,0.1,0.1,0.2,0.2,0.2,0.2,0.3,0.4,0.6,0.4,0.2,0.1,0.2,0.6,1.7,3.4,1.6,0.7,0.4,0.8,1.9,0.9,0.5],
[0.0,0.1,0.1,0.1,0.1,0.2,0.1,0.0,0.0,0.1,0.2,0.2,0.2,0.2,0.3,0.3,0.5,0.8,0.5,0.2,0.1,0.3,0.9,0.5,0.3,0.2,0.5,0.3,0.2,0.6,1.2,2.9],
[0.1,0.1,0.1,0.2,0.2,0.2,0.1,0.1,0.1,0.1,0.1,0.1,0.2,0.3,0.2,0.3,0.5,0.7,0.4,0.2,0.1,0.4,1.6,6.3,3.0,1.1,0.5,0.3,0.9,5.9,2.4,1.0],
[0.1,0.0,0.1,0.1,0.2,0.2,0.1,0.0,0.0,0.1,0.1,0.2,0.2,0.2,0.2,0.3,0.4,0.6,0.4,0.2,0.1,0.2,0.8,2.0,1.1,4.2,2.1,0.9,0.5,0.3,0.7,1.4],
[0.1,0.1,0.1,0.1,0.2,0.3,0.1,0.1,0.0,0.1,0.1,0.1,0.2,0.2,0.3,0.3,0.5,0.9,0.5,0.2,0.1,0.3,1.0,0.7,2.9,7.6,3.1,1.2,0.6,0.4,0.8,0.5],
[0.0,0.1,0.1,0.2,0.2,0.2,0.1,0.0,0.1,0.1,0.1,0.2,0.2,0.2,0.2,0.4,0.6,0.8,0.5,0.2,0.1,0.7,2.1,6.1,2.8,1.5,0.6,0.9,2.2,1.0,0.5,0.9],
[0.1,0.1,0.1,0.1,0.1,0.2,0.1,0.1,0.0,0.1,0.2,0.2,0.2,0.3,0.2,0.3,0.5,0.7,0.4,0.1,0.1,0.2,0.6,1.4,0.9,0.5,1.3,2.6,1.2,0.6,0.4,1.8],
[0.1,0.1,0.1,0.2,0.2,0.2,0.1,0.0,0.0,0.1,0.1,0.1,0.2,0.2,0.3,0.3,0.4,0.6,0.3,0.2,0.1,0.2,0.4,0.8,0.5,0.3,0.2,0.4,0.7,0.5,0.3,0.2],
[0.0,0.1,0.1,0.1,0.2,0.2,0.1,0.1,0.0,0.1,0.1,0.2,0.2,0.2,0.2,0.3,0.5,0.8,0.5,0.3,0.2,0.6,2.2,4.7,2.3,0.9,0.5,1.4,3.8,8.7,3.5,1.3],
[0.1,0.1,0.1,0.1,0.1,0.2,0.1,0.0,0.1,0.1,0.1,0.2,0.3,0.2,0.2,0.3,0.5,0.7,0.4,0.2,0.1,0.4,1.1,3.9,8.2,3.4,1.2,0.5,0.3,0.6,1.1,0.7],
[0.1,0.1,0.2,0.2,0.2,0.3,0.1,0.1,0.0,0.1,0.1,0.1,0.2,0.2,0.3,0.4,0.6,0.9,0.6,0.3,0.1,0.3,0.7,0.4,1.2,2.6,1.3,0.6,0.4,1.5,2.8,1.2],
[0.0,0.1,0.1,0.1,0.2,0.2,0.1,0.0,0.0,0.1,0.1,0.2,0.2,0.2,0.2,0.3,0.4,0.7,1.0,0.4,5.7,2.1,0.9,0.5,0.3,2.4,6.1,2.5,1.0,0.6,2.3,4.0],
[0.1,0.1,0.1,0.2,0.2,0.2,0.1,0.1,0.0,0.1,0.1,0.1,0.2,0.2,0.2,0.3,0.5,0.7,0.4,0.2,0.1,0.2,0.8,2.2,1.2,0.6,0.4,0.3,0.5,1.2,0.7,0.4],
[0.1,0.1,0.1,0.1,0.2,0.2,0.1,0.0,0.1,0.1,0.2,0.2,0.2,0.2,0.3,0.3,0.5,0.8,0.5,0.2,0.1,0.3,1.3,3.0,1.6,0.7,0.4,0.9,2.0,1.1,0.6,0.3],
[0.0,0.1,0.1,0.1,0.1,0.2,0.1,0.1,0.0,0.1,0.1,0.2,0.2,0.3,0.2,0.3,0.4,0.6,0.3,0.1,0.0,0.1,0.4,0.9,0.5,0.3,0.2,0.5,1.0,0.6,0.4,0.2],
[0.1,0.1,0.1,0.2,0.2,0.3,0.1,0.0,0.0,0.1,0.1,0.1,0.2,0.2,0.3,0.4,0.6,1.0,0.6,0.3,0.1,0.5,1.8,4.4,2.1,0.8,0.5,5.0,1.9,0.7,0.4,1.6],
[0.1,0.1,0.1,0.1,0.2,0.2,0.1,0.1,0.0,0.1,0.1,0.2,0.2,0.2,0.2,0.3,0.5,0.7,0.5,0.2,0.1,0.2,0.7,1.5,0.8,0.4,0.3,0.7,1.6,0.9,0.5,0.8],
[0.1,0.1,0.1,0.1,0.2,0.3,0.1,0.0,0.1,0.1,0.1,0.2,0.2,0.2,0.3,0.3,0.5,0.8,0.5,0.2,0.1,0.3,0.6,1.4,3.3,4.2,3.9,1.2,0.6,1.1,2.4,1.0],
[0.0,0.1,0.1,0.1,0.2,0.2,0.1,0.0,0.0,0.1,0.1,0.1,0.2,0.2,0.2,0.3,0.4,0.6,0.4,0.2,0.1,0.2,0.5,1.1,0.6,0.4,0.3,0.8,1.7,0.9,2.2,1.3],
[0.1,0.1,0.1,0.2,0.2,0.2,0.1,0.1,0.0,0.1,0.1,0.2,0.2,0.3,0.3,0.4,0.6,0.9,0.6,0.2,0.1,0.5,1.9,3.5,6.5,2.7,1.0,0.5,0.4,0.8,1.9,0.8],
[0.1,0.1,0.1,0.1,0.1,0.2,0.1,0.0,0.1,0.1,0.1,0.1,0.2,0.2,0.2,0.3,0.5,0.7,0.4,0.2,0.1,0.2,0.6,0.9,1.8,0.9,0.5,0.3,0.6,1.3,0.8,0.5],
[0.1,0.1,0.1,0.1,0.2,0.2,0.1,0.1,0.0,0.1,0.2,0.2,0.2,0.2,0.3,0.3,0.5,0.8,0.5,0.3,0.1,0.4,1.3,2.7,1.4,0.6,1.7,3.6,1.6,0.7,0.4,1.1],
[0.0,0.1,0.1,0.2,0.2,0.2,0.1,0.0,0.0,0.1,0.1,0.2,0.2,0.2,0.2,0.3,0.4,0.6,0.3,0.1,0.0,0.1,0.3,0.6,0.4,0.2,0.1,0.3,0.6,0.4,0.2,0.3],
[0.1,0.1,0.1,0.1,0.2,0.3,0.1,0.1,0.0,0.1,0.1,0.1,0.2,0.2,0.3,0.3,0.5,0.8,0.5,0.2,0.1,0.3,0.9,2.1,1.1,0.6,2.9,1.4,0.7,0.5,1.9,3.8]
];

// ---- member colour palette (legend boxes 01..50) ----
const memberColors = ['#d4a0a8','#d4a0e0','#e08088','#a05030','#a0d0e8','#8050b0','#c0c020','#e0b050','#80b870','#20c070',
'#c04880','#c020c0','#e03060','#a0b0e0','#d0b890','#1860c0','#c8c860','#b8e858','#60a0d8','#60e0e8',
'#c04828','#a0c8a0','#c040d8','#207060','#b01828','#c09878','#903070','#602880','#904040','#104890',
'#50b890','#30e0e0','#6020d0','#a08850','#60e080','#c0e080','#705028','#e05858','#302880','#50d040',
'#a8d8c8','#a02040','#e090d0','#6090b0','#a020c0','#20e090','#e0e0a0','#309090','#508838','#7050e0'];

const FONT = 'DejaVu Sans Mono';
const NAME_MEAN = 'Moyenne des scĂŠnarios';
const NAME_CTRL = 'Run de contrôle';
const NAME_MAIN = 'Run CEP/ECMWF';
const PLUS = 'path://M0,2H5V3H0Z M2,0H3V5H2Z';

function pts(xs, ys) { return ys.map((v, i) => [xs[i], v]); }

const series = [];
// background grid lines
series.push({
  type: 'line', name: 'grid', data: [], silent: true, z: 0,
  markLine: {
    silent: true, symbol: ['none', 'none'], label: { show: false }, animation: false,
    data: gridValues.map(v => ({
      yAxis: v,
      lineStyle: { type: 'solid', color: v === 0 ? '#8a8a8a' : '#c0c0c0', width: (v % 10 === 0) ? 2 : 1 }
    }))
  }
});
function pert(data, axisIdx, c, id) {
  return { type: 'line', name: id, data: data, yAxisIndex: axisIdx, silent: true, z: 2,
    color: c, lineStyle: { width: 1, color: c }, itemStyle: { color: c },
    symbol: PLUS, symbolSize: 5, showSymbol: true };
}
for (let m = 0; m < 50; m++) {
  const c = memberColors[m];
  const id = 'P' + String(m + 1).padStart(2, '0');
  series.push(pert(pts(hours, pertT850[m]), 0, c, id));
  series.push(pert(pts(hours, pertT500[m]), 0, c, id));
  series.push(pert(pts(precipHours, pertPrecip[m]), 1, c, id));
}
function main(name, data, axisIdx, c, w, z) {
  return { type: 'line', name: name, data: data, yAxisIndex: axisIdx, z: z,
    color: c, itemStyle: { color: c }, lineStyle: { width: w, color: c },
    showSymbol: false, symbol: 'none' };
}
series.push(main(NAME_CTRL, pts(hours, ctrlT850), 0, '#0000ff', 4, 3));
series.push(main(NAME_CTRL, pts(hours, ctrlT500), 0, '#0000ff', 4, 3));
series.push(main(NAME_CTRL, pts(precipHours, ctrlPrecip), 1, '#0000ff', 4, 3));
series.push(main(NAME_MAIN, pts(hours, mainT850), 0, '#000000', 4, 4));
series.push(main(NAME_MAIN, pts(hours, mainT500), 0, '#000000', 4, 4));
series.push(main(NAME_MAIN, pts(precipHours, mainPrecip), 1, '#000000', 4, 4));
series.push(main(NAME_MEAN, pts(hours, meanT850), 0, '#ff0000', 5, 5));
series.push(main(NAME_MEAN, pts(hours, meanT500), 0, '#ff0000', 5, 5));
series.push(main(NAME_MEAN, pts(precipHours, meanPrecip), 1, '#ff0000', 5, 5));

const TXT = '10px "DejaVu Sans Mono"';
const graphics = [
  { type: 'text', x: 60, y: 229, style: { text: 'Temp. 850hPa', font: TXT, fill: '#000', verticalAlign: 'top' } },
  { type: 'text', x: 60, y: 380, style: { text: 'Temp. 500hPa', font: TXT, fill: '#000', verticalAlign: 'top' } },
  { type: 'text', x: 60, y: 527, style: { text: 'Précipitations', font: TXT, fill: '#000', verticalAlign: 'top' } },
  { type: 'text', x: 49, y: 601, style: { text: '(Â°c)', font: TXT, fill: '#000', align: 'right', verticalAlign: 'top' } },
  { type: 'text', x: 371, y: 646, style: { text: '50 Perts.', font: TXT, fill: '#000', verticalAlign: 'top' } },
  { type: 'text', x: 452, y: 668, style: { text: 'Ensemble ECMWF/CEP du 08/12/2022 - 00Z', font: TXT, fill: '#000', verticalAlign: 'top' } },
  { type: 'text', x: 452, y: 684, style: { text: 'Copyright 2022 Meteociel.fr - ECMWF', font: 'bold 11.5px "DejaVu Sans Mono"', fill: '#000', verticalAlign: 'top' } }
];
// legend colour boxes for the 50 members
for (let m = 0; m < 50; m++) {
  const row = m < 25 ? 0 : 1;
  const col = m % 25;
  const bx = 430 + col * 11.33;
  graphics.push({ type: 'rect', shape: { x: bx, y: row ? 651 : 645, width: 10, height: 6 }, style: { fill: memberColors[m] }, silent: true });
  graphics.push({ type: 'text', x: bx - 0.5, y: row ? 659 : 632, style: { text: String(m + 1).padStart(2, '0'), font: 'bold 7.5px "DejaVu Sans Mono"', fill: '#000', verticalAlign: 'top' }, silent: true });
}

const chart = echarts.init(document.getElementById('c'), null, { renderer: 'canvas' });
chart.setOption({
  animation: false,
  backgroundColor: '#ffffff',
  title: {
    text: 'Diagramme ensembles ECMWF/CEP 0.4° sur 192h pour Strasbourg',
    subtext: 'Températures 850hPa et 500hPa (°C) , précipitations (mm)',
    left: 20, top: 667, padding: [4, 3, 2, 8], itemGap: 1,
    borderColor: '#000', borderWidth: 1,
    textStyle: { fontFamily: FONT, fontSize: 11.5, fontWeight: 'bold', color: '#000', lineHeight: 14 },
    subtextStyle: { fontFamily: FONT, fontSize: 10, color: '#000', lineHeight: 12 }
  },
  legend: [
    { data: [NAME_MEAN], left: 35, top: 631, padding: 0, icon: 'rect', itemWidth: 31, itemHeight: 4,
      textStyle: { fontFamily: FONT, fontSize: 10, color: '#000', padding: [0, 0, 0, 4] } },
    { data: [NAME_CTRL, NAME_MAIN], orient: 'vertical', left: 226, top: 631, padding: 0, itemGap: 0,
      icon: 'rect', itemWidth: 31, itemHeight: 4,
      textStyle: { fontFamily: FONT, fontSize: 10, color: '#000', lineHeight: 11, padding: [0, 0, 0, 4] } }
  ],
  grid: { left: 50, right: 49, top: 0, bottom: 100, containLabel: false },
  xAxis: {
    type: 'value', min: 0, max: 192, interval: 24,
    axisLine: { show: true, lineStyle: { color: '#c0c0c0', width: 1 } },
    axisTick: { show: false },
    splitLine: { show: true, lineStyle: { color: '#c0c0c0', width: 1 } },
    axisLabel: { rotate: 90, verticalAlign: 'top', margin: 2, color: '#000', fontFamily: FONT, fontSize: 10,
      formatter: v => dayLabels[Math.round(v / 24)] }
  },
  yAxis: [
    { type: 'value', position: 'left', min: -370 / 7, max: 230 / 7,
      axisLine: { show: false }, axisTick: { show: false }, splitLine: { show: false },
      axisLabel: { customValues: leftTicks, align: 'left', margin: 30, color: '#000', fontFamily: FONT, fontSize: 10 } },
    { type: 'value', position: 'right', min: -55 / 7, max: 545 / 7,
      axisLine: { show: false }, axisTick: { show: false }, splitLine: { show: false },
      axisLabel: { customValues: rightTicks, align: 'left', margin: 19, color: '#000', fontFamily: FONT, fontSize: 10 },
      name: '(mm)', nameLocation: 'start', nameGap: 3,
      nameTextStyle: { fontFamily: FONT, fontSize: 10, color: '#000', align: 'left', verticalAlign: 'top', padding: [0, 0, 0, 23] } }
  ],
  graphic: { elements: graphics },
  series: series
});
</script>
</body></html>
